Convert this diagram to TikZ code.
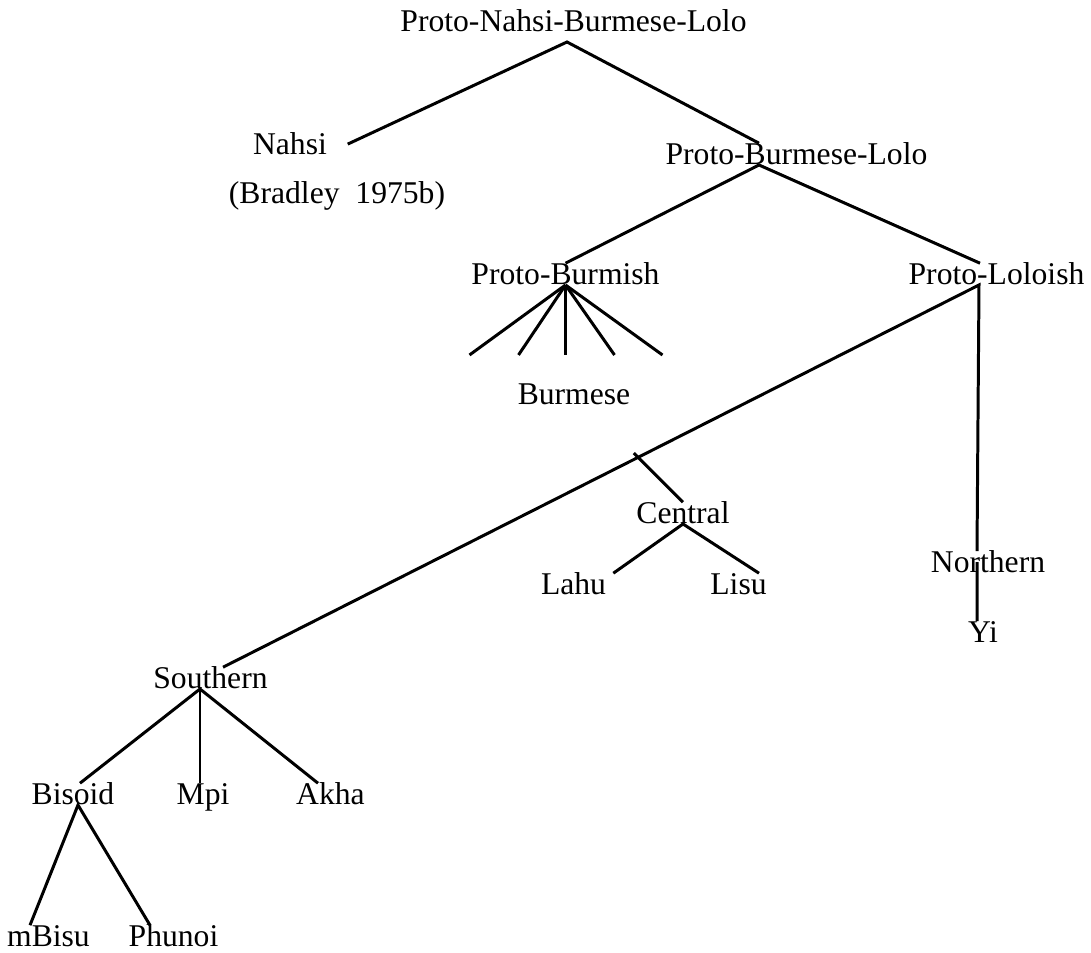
\documentclass[tikz,border=0pt]{standalone}
\usepackage{fontspec}
\setmainfont{Liberation Serif}
\usetikzlibrary{calc}

\tikzset{
  lang/.style={font=\fontsize{18}{20}\selectfont, inner sep=0pt, text height=12pt, text depth=0pt, anchor=south},
  branch/.style={line width=1.7pt}
}

\begin{document}
\begin{tikzpicture}
    \useasboundingbox (0,0) rectangle (21.82,-19.06);
    % labels:
    \node [lang] (root) at (11.47,-0.64) {Proto-Nahsi-Burmese-Lolo};
    \node [lang] (nahsi) at (5.80,-3.10) {Nahsi};
    \node [lang] (bradley) at (6.74,-4.08) {(Bradley~~1975b)};
    \node [lang] (pbl) at (15.93,-3.30) {Proto-Burmese-Lolo};
    \node [lang] (pbm) at (11.31,-5.70) {Proto-Burmish};
    \node [lang] (plo) at (19.93,-5.70) {Proto-Loloish};
    \node [lang] (burmese) at (11.48,-8.10) {Burmese};
    \node [lang] (central) at (13.66,-10.48) {Central};
    \node [lang] (lahu) at (11.47,-11.90) {Lahu};
    \node [lang] (lisu) at (14.77,-11.90) {Lisu};
    \node [lang] (northern) at (19.76,-11.46) {Northern};
    \node [lang] (yi) at (19.66,-12.86) {Yi};
    \node [lang] (southern) at (4.21,-13.78) {Southern};
    \node [lang] (bisoid) at (1.46,-16.10) {Bisoid};
    \node [lang] (mpi) at (4.06,-16.10) {Mpi};
    \node [lang] (akha) at (6.61,-16.10) {Akha};
    \node [lang] (mbisu) at (0.97,-18.94) {mBisu};
    \node [lang] (phunoi) at (3.47,-18.94) {Phunoi};
    % root:
    \draw [branch] ([xshift=0.41cm]nahsi.east) -- ([xshift=-0.13cm,yshift=-0.2cm]root.south) -- ([xshift=-0.75cm]pbl.north);
    % burmese-lolo:
    \draw [branch] (pbm.north) -- ([xshift=-0.75cm]pbl.south) -- ([xshift=-0.33cm]plo.north);
    % burmish fan:
    \foreach \dx [count=\i] in {-1.92,-0.94,0,0.98,1.94} {
      \path (pbm.south) ++(\dx,-1.4) coordinate (fan\i);
      \draw [branch] (pbm.south) -- (fan\i);
    }
    % loloish:
    \draw [branch] ([xshift=0.25cm]southern.north) -- ([xshift=-0.35cm]plo.south) -- ([xshift=-0.22cm]northern.north);
    \coordinate (cbr) at ($([xshift=0.25cm]southern.north)!0.549!([xshift=-0.35cm]plo.south)$);
    \draw [branch] ($(cbr)!-0.12cm!(central.north)$) -- (central.north);
    \draw [branch] ([xshift=-0.22cm]northern.center) -- ([xshift=-0.12cm]yi.north);
    % central:
    \draw [branch] ([xshift=0.14cm]lahu.north east) -- (central.south) -- ([xshift=-0.16cm]lisu.north east);
    % southern:
    \draw [branch] ([xshift=0.14cm]bisoid.north) -- ([xshift=-0.21cm]southern.south) -- ([xshift=-0.25cm]akha.north);
    \draw [branch] ([xshift=-0.21cm]southern.south) -- ([xshift=-0.06cm]mpi.north);
    \draw [branch] ([xshift=-0.37cm]mbisu.north) -- ([xshift=0.10cm]bisoid.south) -- ([xshift=-0.47cm]phunoi.north);
\end{tikzpicture}
\end{document}
